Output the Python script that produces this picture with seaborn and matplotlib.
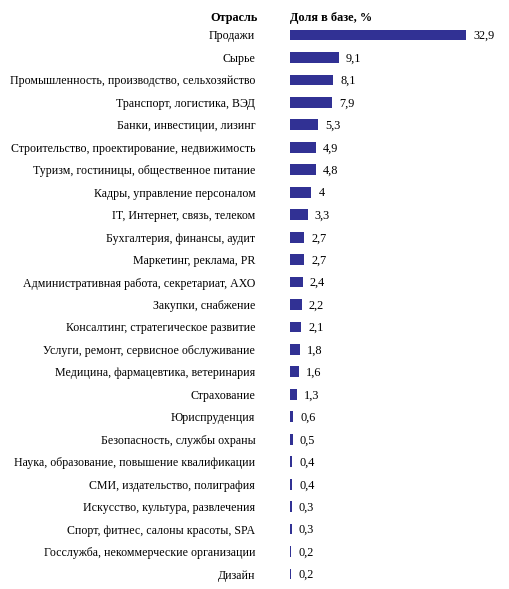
import matplotlib
matplotlib.use("Agg")
import matplotlib.pyplot as plt
import seaborn as sns
import pandas as pd

categories = [
    "Продажи", "Сырье", "Промышленность, производство, сельхозяйство",
    "Транспорт, логистика, ВЭД", "Банки, инвестиции, лизинг",
    "Строительство, проектирование, недвижимость",
    "Туризм, гостиницы, общественное питание",
    "Кадры, управление персоналом", "IT, Интернет, связь, телеком",
    "Бухгалтерия, финансы, аудит", "Маркетинг, реклама, PR",
    "Административная работа, секретариат, АХО", "Закупки, снабжение",
    "Консалтинг, стратегическое развитие",
    "Услуги, ремонт, сервисное обслуживание",
    "Медицина, фармацевтика, ветеринария", "Страхование", "Юриспруденция",
    "Безопасность, службы охраны",
    "Наука, образование, повышение квалификации",
    "СМИ, издательство, полиграфия", "Искусство, культура, развлечения",
    "Спорт, фитнес, салоны красоты, SPA",
    "Госслужба, некоммерческие организации", "Дизайн",
]
values = [32.9, 9.1, 8.1, 7.9, 5.3, 4.9, 4.8, 4.0, 3.3, 2.7, 2.7, 2.4, 2.2,
          2.1, 1.8, 1.6, 1.3, 0.6, 0.5, 0.4, 0.4, 0.3, 0.3, 0.2, 0.2]
header_left = "Отрасль"
header_right = "Доля в базе, %"

df = pd.DataFrame({"cat": categories, "val": values})

plt.rcParams["font.family"] = ["Liberation Serif", "DejaVu Serif"]
W, H = 509, 589
fig = plt.figure(figsize=(W / 100, H / 100), dpi=100)
n = len(categories)
step = (574 - 35) / (n - 1)
top_px = 35 - step / 2
bot_px = 574 + step / 2
left_px, right_px = 290, 505
ax = fig.add_axes([left_px / W, 1 - bot_px / H, (right_px - left_px) / W,
                   (bot_px - top_px) / H])
sns.barplot(data=df, x="val", y="cat", ax=ax, color="#313194",
            saturation=1, width=0.48, orient="h")
ax.set_xlim(0, (right_px - left_px) / (176 / 32.9))
ax.set_ylim(n - 0.5, -0.5)
for s in ax.spines.values():
    s.set_visible(False)
ax.set_xticks([])
ax.set_xlabel("")
ax.set_ylabel("")
ax.tick_params(axis="y", length=0, pad=25, labelsize=8.6)
for i, v in enumerate(values):
    txt = f"{v:g}".replace(".", ",")
    ax.text(v + 1.3, i + 0.05, txt, va="center", ha="left", fontsize=8.8)
fig.text(258 / W, 1 - 18.5 / H, header_left, ha="right", va="center",
         fontsize=8.8, fontweight="bold")
fig.text(290 / W, 1 - 18.5 / H, header_right, ha="left", va="center",
         fontsize=8.8, fontweight="bold")
fig.savefig("out.png", dpi=100, facecolor="white")
